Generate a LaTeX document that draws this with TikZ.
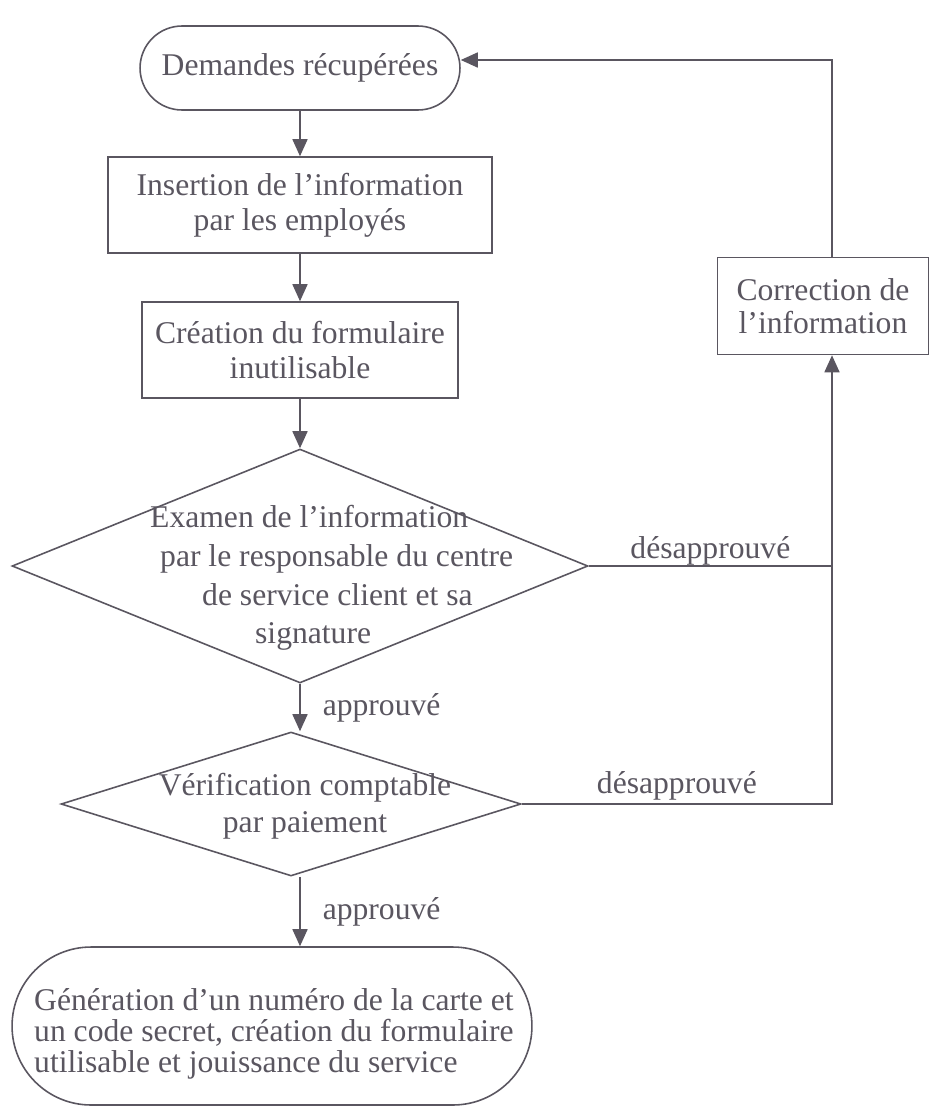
\documentclass[tikz,border=0pt]{standalone}
\usepackage{fontspec}
\setmainfont{Liberation Serif}
\usetikzlibrary{arrows.meta,shapes.geometric,positioning}
\definecolor{ink}{HTML}{5A5660}
\tikzset{
	every node/.style={font=\fontsize{18}{20}\selectfont, text=ink},
	terminal/.style={draw=ink, line width=0.9pt, rectangle, align=center, inner sep=0pt},
	boite/.style={draw=ink, line width=0.9pt, rectangle, align=center, inner sep=0pt},
	decision/.style={draw=ink, line width=0.9pt, diamond, inner sep=0pt},
	fleche/.style={draw=ink, line width=0.9pt, -{Triangle[length=0.34cm,width=0.3cm]}},
	trait/.style={draw=ink, line width=0.9pt},
}
\begin{document}
\begin{tikzpicture}[x=0.02cm,y=-0.02cm]
	\fill[white] (0,0) rectangle (931,1109);
	\node[terminal, rounded corners=0.84cm, minimum width=6.4cm, minimum height=1.68cm] (dem) at (300,68) {Demandes récupérées};
	\node[boite, minimum width=7.68cm, minimum height=1.92cm] (ins) at (300,205) {Insertion de l’information\\par les employés};
	\node[boite, minimum width=6.32cm, minimum height=1.92cm] (cre) at (300,350) {Création du formulaire\\inutilisable};
	\node[decision, minimum width=11.52cm, minimum height=4.68cm] (exa) at (300,566) {};
	\node[align=left, anchor=west, font=\fontsize{18}{22}\selectfont] (exat) at (144,578) {Examen de l’information\\\hspace*{0.2cm}par le responsable du centre\\\hspace*{1.04cm}de service client et sa\\\hspace*{2.1cm}signature};
	\node[decision, minimum width=9.2cm, minimum height=2.88cm] (ver) at (291,804) {};
	\node[align=center, font=\fontsize{18}{21}\selectfont] (vert) at (305,806) {Vérification comptable\\par paiement};
	\node[terminal, rounded corners=1.58cm, minimum width=10.4cm, minimum height=3.16cm] (gen) at (272,1026) {};
	\node[align=left, anchor=west, font=\fontsize{18}{17.5}\selectfont] (gent) at (28,1034) {Génération d’un numéro de la carte et\\un code secret, création du formulaire\\utilisable et jouissance du service};
	\node[boite, minimum width=4.22cm, minimum height=1.94cm, font=\fontsize{18}{18.5}\selectfont] (cor) at (823,306) {Correction de\\l’information};
	\coordinate (rx) at (832,60);

	\draw[fleche] (dem) -- (ins);
	\draw[fleche] (ins) -- (cre);
	\draw[fleche] (cre) -- (exa.north);
	\draw[fleche] (exa.south) -- node[right=0.44cm, inner sep=0pt] (app1) {approuvé} (exa.south |- ver.north);
	\draw[fleche] (exa.south |- ver.south) -- node[right=0.44cm, inner sep=0pt] (app2) {approuvé} (exa.south |- gen.north);
	\draw[trait] (exa.east) -- node[above, inner sep=0pt] (des1) {désapprouvé} (exa.east -| rx);
	\draw[fleche] (ver.east) -- node[above, inner sep=1.5pt] (des2) {désapprouvé} (ver.east -| rx) -- (rx |- cor.south);
	\draw[fleche] (rx |- cor.north) -- (rx) -- (rx -| dem.east);
\end{tikzpicture}
\end{document}
